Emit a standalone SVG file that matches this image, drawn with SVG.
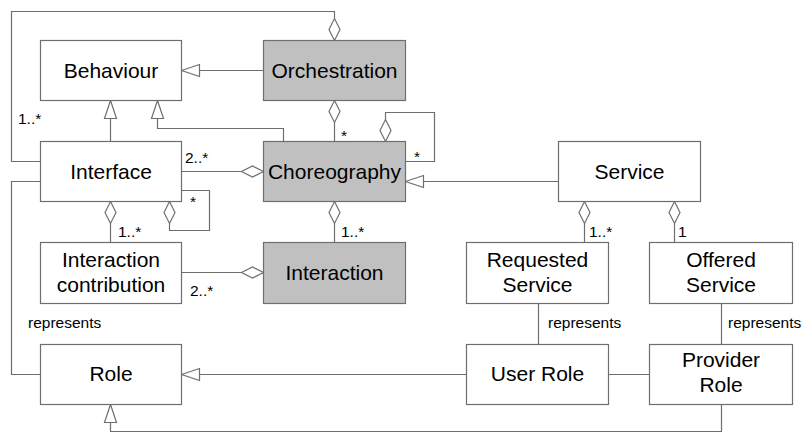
<svg xmlns="http://www.w3.org/2000/svg" width="802" height="433" viewBox="0 0 802 433">
<style>
.box{fill:#fff;stroke:#6e6e6e;stroke-width:1.2}
.grey{fill:#c0c0c0;stroke:#6e6e6e;stroke-width:1.2}
.t{font-family:"Liberation Sans",Arial,sans-serif;font-size:21px;fill:#000;text-anchor:middle}
.l{font-family:"Liberation Sans",Arial,sans-serif;font-size:15.5px;fill:#000}
.c{fill:none;stroke:#6e6e6e;stroke-width:1.2}
.h{fill:#fff;stroke:#6e6e6e;stroke-width:1.2}
</style>
<rect width="802" height="433" fill="#fff"/>
<g id="connectors">
<!-- Orchestration -> Behaviour -->
<path class="c" d="M263.5,70.5 H199.5"/>
<polygon class="h" points="181.5,70.5 199.5,64.5 199.5,76.5"/>
<!-- Interface -> Behaviour -->
<path class="c" d="M110.5,141.5 V118.5"/>
<polygon class="h" points="110.5,100.5 104.5,118.5 116.5,118.5"/>
<!-- Choreography -> Behaviour -->
<path class="c" d="M283.5,141.5 V128.5 H157.5 V118.5"/>
<polygon class="h" points="157.5,100.5 151.5,118.5 163.5,118.5"/>
<!-- Orchestration top to Interface -->
<path class="c" d="M40.5,161.5 H11.5 V11.5 H334.5 V18.5"/>
<polygon class="h" points="334.5,40.5 329,29.5 334.5,18.5 340,29.5"/>
<!-- Orchestration -> Choreography -->
<path class="c" d="M334.5,122.5 V141.5"/>
<polygon class="h" points="334.5,100.5 340,111.5 334.5,122.5 329,111.5"/>
<!-- Choreography self loop -->
<path class="c" d="M385.5,119.5 V112.5 H434.5 V161.5 H405.5"/>
<polygon class="h" points="385.5,141.5 391,130.5 385.5,119.5 380,130.5"/>
<!-- Interface -> Choreography -->
<path class="c" d="M181.5,171.5 H241.5"/>
<polygon class="h" points="263.5,171.5 252.5,166 241.5,171.5 252.5,177"/>
<!-- Service -> Choreography -->
<path class="c" d="M558.5,181.5 H423.5"/>
<polygon class="h" points="405.5,181.5 423.5,175.5 423.5,187.5"/>
<!-- Interface self loop -->
<path class="c" d="M169.5,223.5 V230.5 H209.5 V190.5 H181.5"/>
<polygon class="h" points="169.5,201.5 175,212.5 169.5,223.5 164,212.5"/>
<!-- Interface -> Interaction contribution -->
<path class="c" d="M110.5,223.5 V242.5"/>
<polygon class="h" points="110.5,201.5 116,212.5 110.5,223.5 105,212.5"/>
<!-- Choreography -> Interaction -->
<path class="c" d="M334.5,223.5 V242.5"/>
<polygon class="h" points="334.5,201.5 340,212.5 334.5,223.5 329,212.5"/>
<!-- Interaction contribution -> Interaction -->
<path class="c" d="M181.5,272.5 H241.5"/>
<polygon class="h" points="263.5,272.5 252.5,267 241.5,272.5 252.5,278"/>
<!-- Service -> Requested Service -->
<path class="c" d="M584.5,223.5 V242.5"/>
<polygon class="h" points="584.5,201.5 590,212.5 584.5,223.5 579,212.5"/>
<!-- Service -> Offered Service -->
<path class="c" d="M674.5,223.5 V242.5"/>
<polygon class="h" points="674.5,201.5 680,212.5 674.5,223.5 669,212.5"/>
<!-- Requested Service - User Role -->
<path class="c" d="M538.5,303.5 V344.5"/>
<!-- Offered Service - Provider Role -->
<path class="c" d="M721.5,303.5 V344.5"/>
<!-- User Role -> Role -->
<path class="c" d="M466.5,374.5 H199.5"/>
<polygon class="h" points="181.5,374.5 199.5,368.5 199.5,380.5"/>
<!-- User Role - Provider Role -->
<path class="c" d="M608.5,374.5 H649.5"/>
<!-- Provider Role -> Role -->
<path class="c" d="M721.5,404.5 V431.5 H110.5 V422.5"/>
<polygon class="h" points="110.5,404.5 104.5,422.5 116.5,422.5"/>
<!-- Interface - Role -->
<path class="c" d="M40.5,181.5 H11.5 V374.5 H40.5"/>
<text class="l" x="18" y="124">1..*</text>
<text class="l" x="341" y="141">*</text>
<text class="l" x="414" y="162">*</text>
<text class="l" x="185" y="163">2..*</text>
<text class="l" x="190" y="207">*</text>
<text class="l" x="118" y="237">1..*</text>
<text class="l" x="341" y="237">1..*</text>
<text class="l" x="190" y="296">2..*</text>
<text class="l" x="28" y="328">represents</text>
<text class="l" x="589" y="237">1..*</text>
<text class="l" x="678" y="237">1</text>
<text class="l" x="548" y="328">represents</text>
<text class="l" x="728" y="328">represents</text>
</g>
<g id="behaviour"><rect class="box" x="40.5" y="40.5" width="141" height="60"/><text class="t" x="111" y="78">Behaviour</text></g>
<g id="orchestration"><rect class="grey" x="263.5" y="40.5" width="142" height="60"/><text class="t" x="334.5" y="78">Orchestration</text></g>
<g id="interface"><rect class="box" x="40.5" y="141.5" width="141" height="60"/><text class="t" x="111" y="178.5">Interface</text></g>
<g id="choreography"><rect class="grey" x="263.5" y="141.5" width="142" height="60"/><text class="t" x="334.5" y="178.5">Choreography</text></g>
<g id="service"><rect class="box" x="558.5" y="141.5" width="142" height="60"/><text class="t" x="629.5" y="178.5">Service</text></g>
<g id="interaction-contribution"><rect class="box" x="40.5" y="242.5" width="141" height="61"/><text class="t" x="111" y="266.5">Interaction</text><text class="t" x="111" y="291.5">contribution</text></g>
<g id="interaction"><rect class="grey" x="263.5" y="242.5" width="142" height="61"/><text class="t" x="334.5" y="280">Interaction</text></g>
<g id="requested-service"><rect class="box" x="466.5" y="242.5" width="142" height="61"/><text class="t" x="537.5" y="266.5">Requested</text><text class="t" x="537.5" y="291.5">Service</text></g>
<g id="offered-service"><rect class="box" x="649.5" y="242.5" width="143" height="61"/><text class="t" x="721" y="266.5">Offered</text><text class="t" x="721" y="291.5">Service</text></g>
<g id="role"><rect class="box" x="40.5" y="344.5" width="141" height="60"/><text class="t" x="111" y="381">Role</text></g>
<g id="user-role"><rect class="box" x="466.5" y="344.5" width="142" height="60"/><text class="t" x="537.5" y="381">User Role</text></g>
<g id="provider-role"><rect class="box" x="649.5" y="344.5" width="143" height="60"/><text class="t" x="721" y="366.5">Provider</text><text class="t" x="721" y="392">Role</text></g>
</svg>
